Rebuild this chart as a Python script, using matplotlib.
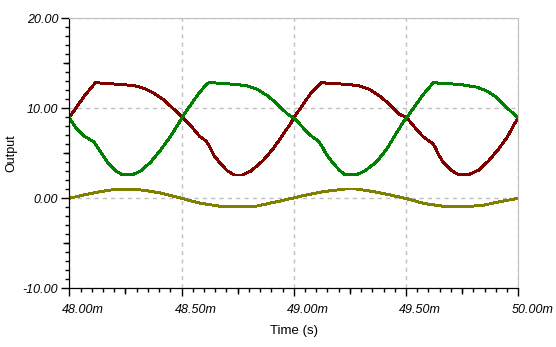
import matplotlib
matplotlib.use("Agg")
import matplotlib.pyplot as plt
import matplotlib.transforms as mtransforms
from matplotlib.ticker import MultipleLocator, FuncFormatter

# Time in milliseconds, values in volts
red_t = [48.000, 48.036, 48.073, 48.117, 48.140, 48.244, 48.296, 48.333, 48.377,
         48.422, 48.466, 48.505, 48.542, 48.579, 48.609, 48.624, 48.646, 48.676,
         48.705, 48.735, 48.772, 48.809, 48.861, 48.906, 48.950, 48.988, 49.004,
         49.041, 49.078, 49.122, 49.145, 49.241, 49.293, 49.338, 49.382, 49.427,
         49.471, 49.503, 49.540, 49.577, 49.614, 49.629, 49.644, 49.666, 49.703,
         49.733, 49.778, 49.822, 49.867, 49.911, 49.949, 49.986, 50.000]
red_v = [8.96, 10.26, 11.55, 12.85, 12.80, 12.62, 12.48, 12.22, 11.67,
         10.92, 9.89, 8.96, 8.03, 6.92, 6.37, 5.81, 4.70, 3.78,
         3.03, 2.59, 2.59, 3.03, 4.14, 5.44, 7.00, 8.40, 9.07,
         10.44, 11.73, 12.85, 12.80, 12.65, 12.48, 12.10, 11.37, 10.44,
         9.33, 8.96, 7.85, 6.81, 6.18, 5.73, 4.89, 3.96, 3.11,
         2.62, 2.62, 3.11, 4.14, 5.44, 6.73, 8.40, 8.96]

green_t = [48.000, 48.028, 48.065, 48.110, 48.132, 48.169, 48.207, 48.236, 48.281,
           48.318, 48.363, 48.407, 48.452, 48.489, 48.505, 48.542, 48.579, 48.616,
           48.631, 48.743, 48.795, 48.839, 48.884, 48.928, 48.973, 49.004, 49.041,
           49.078, 49.108, 49.123, 49.145, 49.175, 49.204, 49.227, 49.279, 49.316,
           49.368, 49.413, 49.449, 49.486, 49.503, 49.540, 49.577, 49.622, 49.644,
           49.741, 49.815, 49.860, 49.904, 49.949, 49.993, 50.000]
green_v = [8.96, 7.85, 6.92, 6.26, 5.44, 4.03, 3.03, 2.62, 2.62,
           3.03, 4.03, 5.37, 6.92, 8.40, 9.07, 10.44, 11.73, 12.80,
           12.85, 12.65, 12.48, 12.10, 11.37, 10.44, 9.33, 8.85, 7.85,
           6.92, 6.37, 5.89, 4.89, 3.89, 3.11, 2.62, 2.62, 3.03,
           4.03, 5.44, 6.92, 8.40, 8.96, 10.26, 11.55, 12.85, 12.80,
           12.65, 12.35, 11.92, 11.18, 10.07, 9.07, 8.96]

olive_t = [48.000, 48.066, 48.125, 48.185, 48.266, 48.333, 48.407, 48.499, 48.585,
           48.674, 48.748, 48.830, 48.927, 49.000, 49.057, 49.132, 49.228, 49.280,
           49.354, 49.429, 49.503, 49.577, 49.666, 49.755, 49.837, 49.919, 50.000]
olive_v = [0.00, 0.37, 0.67, 0.92, 1.03, 0.89, 0.59, 0.00, -0.56,
           -0.89, -0.93, -0.89, -0.37, 0.05, 0.37, 0.74, 1.03, 1.03,
           0.74, 0.37, -0.04, -0.56, -0.89, -0.93, -0.81, -0.37, 0.00]

plt.rcParams["font.family"] = "Liberation Sans"

fig = plt.figure(figsize=(5.56, 3.47), dpi=100)
ax = fig.add_axes([0.1246, 0.1692, 0.8076, 0.7781])

ax.plot(red_t, red_v, color="#800000", lw=1.4, antialiased=False)
ax.plot(green_t, green_v, color="#008000", lw=1.4, antialiased=False)
ax.plot(olive_t, olive_v, color="#808000", lw=1.4, antialiased=False)

ax.set_xlim(48.0, 50.0)
ax.set_ylim(-10, 20)

ax.xaxis.set_major_locator(MultipleLocator(0.5))
ax.xaxis.set_minor_locator(MultipleLocator(0.05))
ax.yaxis.set_major_locator(MultipleLocator(10))
ax.yaxis.set_minor_locator(MultipleLocator(1))
ax.xaxis.set_major_formatter(FuncFormatter(lambda x, p: f"{x:.2f}m"))
ax.yaxis.set_major_formatter(FuncFormatter(lambda y, p: f"{y:.2f}"))

ax.tick_params(which="major", length=6, width=1, direction="out", pad=2,
               labelsize=9, color="black")
ax.tick_params(axis="x", which="major", pad=5)
ax.tick_params(which="minor", length=3, width=1, direction="out", color="black")
for lab in ax.get_xticklabels() + ax.get_yticklabels():
    lab.set_fontstyle("italic")

# time labels sit a little to the right of their ticks
shift = mtransforms.ScaledTranslation(0.14, 0, fig.dpi_scale_trans)
for lab in ax.get_xticklabels():
    lab.set_transform(lab.get_transform() + shift)

# slightly longer ticks halfway between the major ones
sx = ax.secondary_xaxis("bottom")
sx.set_xticks([48.25, 48.75, 49.25, 49.75])
sx.set_xticklabels([])
sx.tick_params(length=4.5, width=1, direction="out")
sy = ax.secondary_yaxis("left")
sy.set_yticks([15, 5, -5])
sy.set_yticklabels([])
sy.tick_params(length=4.5, width=1, direction="out")

ax.grid(True, which="major", color="#c0c0c0", linestyle=(0, (3, 3)), lw=1)
ax.spines["top"].set_color("#c0c0c0")
ax.spines["right"].set_color("#c0c0c0")
ax.spines["left"].set_color("black")
ax.spines["bottom"].set_color("black")

ax.set_xlabel("Time (s)", fontsize=9.5, labelpad=7)
ax.set_ylabel("Output", fontsize=9, labelpad=4)

fig.savefig("out.png", dpi=100)
